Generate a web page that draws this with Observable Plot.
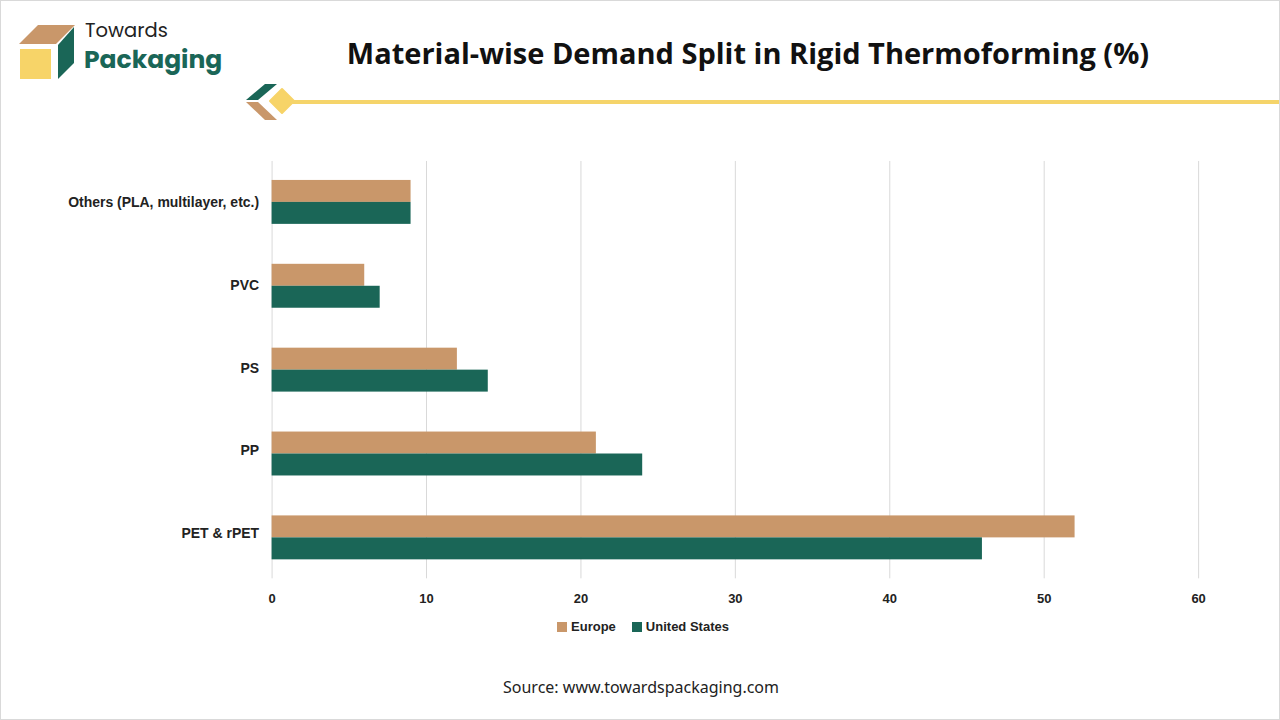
<!DOCTYPE html>
<html>
<head>
<meta charset="utf-8">
<script src="https://cdn.jsdelivr.net/npm/d3@7"></script>
<script src="https://cdn.jsdelivr.net/npm/@observablehq/plot@0.6"></script>
<style>
  html, body { margin: 0; padding: 0; background: #fff; }
  #page { position: relative; width: 1280px; height: 720px; overflow: hidden; background: #fff; box-sizing: border-box; border: 1px solid #d9d9d9; }
  .abs { position: absolute; }
  #title { left: 0; width: 1494px; top: 32px; text-align: center; font-family: "Open Sans", sans-serif; font-weight: 700; font-size: 29px; color: #111; letter-spacing: 0px; }
  #legend { left: 0; width: 1284px; top: 618px; text-align: center; font-family: "Liberation Sans", Arial, sans-serif; font-weight: 700; font-size: 13px; color: #222; }
  #legend span.sw { display: inline-block; width: 10px; height: 10px; margin-right: 4px; vertical-align: -1px; }
  #legend span.it { margin: 0 8px; }
  #source { left: 0; width: 1280px; top: 675px; text-align: center; font-family: "Noto Sans", sans-serif; font-size: 16px; color: #222; }
  #plotA, #plotB { left: 0; top: 140px; }
</style>
</head>
<body>
<div id="page">
  <svg class="abs" style="left:0;top:0" width="320" height="130">
    <polygon points="18,43 37,24 74,24 55,43" fill="#C9976A"/>
    <polygon points="57,44 73,26 73,62 57,78" fill="#1A6657"/>
    <rect x="19" y="48" width="31" height="30" fill="#F7D468"/>
    <text x="84" y="36" font-family="Poppins, 'Open Sans', sans-serif" font-size="19.5" fill="#222">Towards</text>
    <text x="83" y="67" font-family="Poppins, 'Open Sans', sans-serif" font-weight="700" font-size="25" fill="#1A6657">Packaging</text>
    <polygon points="245,99 264,83 276,83 257,99" fill="#1A6657"/>
    <polygon points="245,101 257,101 276,119 264,119" fill="#C9976A"/>
    <polygon points="281,88 293,100 281,112 269,100" fill="#F7D468" stroke="#F7D468" stroke-width="2" stroke-linejoin="round"/>
  </svg>
  <div class="abs" style="left:290px;top:99px;width:990px;height:4px;background:#F5D46A"></div>
  <div id="title" class="abs">Material-wise Demand Split in Rigid Thermoforming (%)</div>
  <div id="plotA" class="abs"></div>
  <div id="plotB" class="abs"></div>
  <div id="legend" class="abs"></div>
  <div id="source" class="abs">Source: www.towardspackaging.com</div>
</div>
<script>
const materials = ["Others (PLA, multilayer, etc.)", "PVC", "PS", "PP", "PET & rPET"];
const series = ["Europe", "United States"];
const europe = [9, 6, 12, 21, 52];
const unitedStates = [9, 7, 14, 24, 46];
const xTicks = [0, 10, 20, 30, 40, 50, 60];
const colors = ["#C9976A", "#1A6657"];

const data = [];
materials.forEach((m, i) => {
  data.push({material: m, series: "Europe", value: europe[i]});
  data.push({material: m, series: "United States", value: unitedStates[i]});
});

const bandOpts = {paddingInner: 0.48, paddingOuter: 0.21};

const common = {
  width: 1280, height: 478,
  marginTop: 20, marginBottom: 40, marginLeft: 271, marginRight: 81,
  style: {background: "transparent", fontFamily: "'Liberation Sans', Arial, sans-serif"}
};

const plotA = Plot.plot({
  ...common,
  x: {domain: [0, 60]},
  y: {domain: materials, ...bandOpts},
  marks: [
    Plot.ruleX(xTicks, {x: d => d, stroke: "#d9d9d9", strokeWidth: 1}),
    Plot.axisX(xTicks, {tickSize: 0, tickPadding: 15, fontSize: 13, fontWeight: "bold", fill: "#222", label: null}),
    Plot.axisY(materials, {tickSize: 0, tickPadding: 13, fontSize: 14, fontWeight: "bold", fill: "#222", label: null, dy: -2})
  ]
});
document.getElementById("plotA").appendChild(plotA);

const plotB = Plot.plot({
  ...common,
  x: {domain: [0, 60], axis: null},
  fy: {domain: materials, ...bandOpts, axis: null, label: null},
  y: {domain: series, padding: 0, axis: null},
  color: {domain: series, range: colors},
  marks: [
    Plot.barX(data, {fy: "material", y: "series", x: "value", fill: "series"})
  ]
});
document.getElementById("plotB").appendChild(plotB);

const legend = document.getElementById("legend");
series.forEach((s, i) => {
  const it = document.createElement("span");
  it.className = "it";
  it.innerHTML = `<span class="sw" style="background:${colors[i]}"></span>${s}`;
  legend.appendChild(it);
});
</script>
</body>
</html>
